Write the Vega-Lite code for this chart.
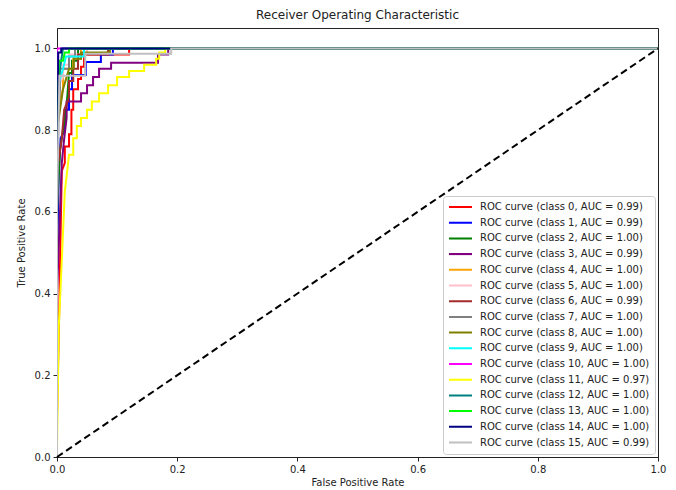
{
  "$schema": "https://vega.github.io/schema/vega-lite/v6.json",
  "autosize": "none",
  "width": 601,
  "height": 429,
  "padding": {"left": 57, "top": 28, "right": 18, "bottom": 33},
  "background": "white",
  "config": {
    "font": "DejaVu Sans",
    "view": {"stroke": "#222", "strokeWidth": 1},
    "axis": {"grid": false, "domainColor": "#222", "tickColor": "#222", "labelColor": "#222", "titleColor": "#222", "labelFontSize": 10, "titleFontSize": 10, "titleFontWeight": "normal", "tickSize": 4, "labelPadding": 3, "labelFlush": false, "labelOverlap": false}
  },
  "title": {"text": "Receiver Operating Characteristic", "fontSize": 12, "fontWeight": "normal", "color": "#222", "anchor": "middle", "offset": 6},
  "datasets": {
    "auc": [
      {"c": 0, "label": "ROC curve (class 0, AUC = 0.99)"},
      {"c": 1, "label": "ROC curve (class 1, AUC = 0.99)"},
      {"c": 2, "label": "ROC curve (class 2, AUC = 1.00)"},
      {"c": 3, "label": "ROC curve (class 3, AUC = 0.99)"},
      {"c": 4, "label": "ROC curve (class 4, AUC = 1.00)"},
      {"c": 5, "label": "ROC curve (class 5, AUC = 1.00)"},
      {"c": 6, "label": "ROC curve (class 6, AUC = 0.99)"},
      {"c": 7, "label": "ROC curve (class 7, AUC = 1.00)"},
      {"c": 8, "label": "ROC curve (class 8, AUC = 1.00)"},
      {"c": 9, "label": "ROC curve (class 9, AUC = 1.00)"},
      {"c": 10, "label": "ROC curve (class 10, AUC = 1.00)"},
      {"c": 11, "label": "ROC curve (class 11, AUC = 0.97)"},
      {"c": 12, "label": "ROC curve (class 12, AUC = 1.00)"},
      {"c": 13, "label": "ROC curve (class 13, AUC = 1.00)"},
      {"c": 14, "label": "ROC curve (class 14, AUC = 1.00)"},
      {"c": 15, "label": "ROC curve (class 15, AUC = 0.99)"}
    ],
    "roc": [
      {"c":0,"i":0,"fpr":0,"tpr":0},{"c":0,"i":1,"fpr":0,"tpr":0.1},{"c":0,"i":2,"fpr":0.004,"tpr":0.38},{"c":0,"i":3,"fpr":0.006,"tpr":0.55},{"c":0,"i":4,"fpr":0.008,"tpr":0.7},{"c":0,"i":5,"fpr":0.013,"tpr":0.72},{"c":0,"i":6,"fpr":0.013,"tpr":0.76},{"c":0,"i":7,"fpr":0.02,"tpr":0.76},{"c":0,"i":8,"fpr":0.02,"tpr":0.79},{"c":0,"i":9,"fpr":0.024,"tpr":0.79},{"c":0,"i":10,"fpr":0.024,"tpr":0.85},{"c":0,"i":11,"fpr":0.027,"tpr":0.85},{"c":0,"i":12,"fpr":0.027,"tpr":0.9},{"c":0,"i":13,"fpr":0.035,"tpr":0.9},{"c":0,"i":14,"fpr":0.035,"tpr":0.925},{"c":0,"i":15,"fpr":0.04,"tpr":0.925},{"c":0,"i":16,"fpr":0.04,"tpr":0.955},{"c":0,"i":17,"fpr":0.045,"tpr":0.955},{"c":0,"i":18,"fpr":0.045,"tpr":0.985},{"c":0,"i":19,"fpr":0.12,"tpr":0.985},{"c":0,"i":20,"fpr":0.12,"tpr":1},{"c":0,"i":21,"fpr":1,"tpr":1},
      {"c":1,"i":0,"fpr":0,"tpr":0},{"c":1,"i":1,"fpr":0,"tpr":0.5},{"c":1,"i":2,"fpr":0.003,"tpr":0.7},{"c":1,"i":3,"fpr":0.006,"tpr":0.78},{"c":1,"i":4,"fpr":0.013,"tpr":0.8},{"c":1,"i":5,"fpr":0.013,"tpr":0.85},{"c":1,"i":6,"fpr":0.02,"tpr":0.85},{"c":1,"i":7,"fpr":0.02,"tpr":0.9},{"c":1,"i":8,"fpr":0.025,"tpr":0.9},{"c":1,"i":9,"fpr":0.025,"tpr":0.935},{"c":1,"i":10,"fpr":0.048,"tpr":0.935},{"c":1,"i":11,"fpr":0.048,"tpr":0.967},{"c":1,"i":12,"fpr":0.073,"tpr":0.967},{"c":1,"i":13,"fpr":0.073,"tpr":0.985},{"c":1,"i":14,"fpr":0.093,"tpr":0.985},{"c":1,"i":15,"fpr":0.093,"tpr":1},{"c":1,"i":16,"fpr":1,"tpr":1},
      {"c":2,"i":0,"fpr":0,"tpr":0},{"c":2,"i":1,"fpr":0,"tpr":0.6},{"c":2,"i":2,"fpr":0.005,"tpr":0.75},{"c":2,"i":3,"fpr":0.01,"tpr":0.8},{"c":2,"i":4,"fpr":0.015,"tpr":0.84},{"c":2,"i":5,"fpr":0.018,"tpr":0.9},{"c":2,"i":6,"fpr":0.02,"tpr":0.94},{"c":2,"i":7,"fpr":0.025,"tpr":0.94},{"c":2,"i":8,"fpr":0.025,"tpr":0.97},{"c":2,"i":9,"fpr":0.035,"tpr":0.97},{"c":2,"i":10,"fpr":0.035,"tpr":1},{"c":2,"i":11,"fpr":1,"tpr":1},
      {"c":3,"i":0,"fpr":0,"tpr":0},{"c":3,"i":1,"fpr":0,"tpr":0.4},{"c":3,"i":2,"fpr":0.005,"tpr":0.6},{"c":3,"i":3,"fpr":0.008,"tpr":0.72},{"c":3,"i":4,"fpr":0.012,"tpr":0.78},{"c":3,"i":5,"fpr":0.016,"tpr":0.83},{"c":3,"i":6,"fpr":0.016,"tpr":0.87},{"c":3,"i":7,"fpr":0.04,"tpr":0.87},{"c":3,"i":8,"fpr":0.04,"tpr":0.89},{"c":3,"i":9,"fpr":0.05,"tpr":0.89},{"c":3,"i":10,"fpr":0.05,"tpr":0.91},{"c":3,"i":11,"fpr":0.06,"tpr":0.91},{"c":3,"i":12,"fpr":0.06,"tpr":0.93},{"c":3,"i":13,"fpr":0.07,"tpr":0.93},{"c":3,"i":14,"fpr":0.07,"tpr":0.95},{"c":3,"i":15,"fpr":0.09,"tpr":0.95},{"c":3,"i":16,"fpr":0.09,"tpr":0.965},{"c":3,"i":17,"fpr":0.168,"tpr":0.965},{"c":3,"i":18,"fpr":0.168,"tpr":0.985},{"c":3,"i":19,"fpr":0.185,"tpr":0.985},{"c":3,"i":20,"fpr":0.185,"tpr":1},{"c":3,"i":21,"fpr":1,"tpr":1},
      {"c":4,"i":0,"fpr":0,"tpr":0},{"c":4,"i":1,"fpr":0,"tpr":0.85},{"c":4,"i":2,"fpr":0.01,"tpr":0.9},{"c":4,"i":3,"fpr":0.01,"tpr":0.95},{"c":4,"i":4,"fpr":0.027,"tpr":0.95},{"c":4,"i":5,"fpr":0.027,"tpr":0.975},{"c":4,"i":6,"fpr":0.04,"tpr":0.975},{"c":4,"i":7,"fpr":0.04,"tpr":1},{"c":4,"i":8,"fpr":1,"tpr":1},
      {"c":5,"i":0,"fpr":0,"tpr":0},{"c":5,"i":1,"fpr":0,"tpr":0.9},{"c":5,"i":2,"fpr":0.01,"tpr":0.93},{"c":5,"i":3,"fpr":0.01,"tpr":0.96},{"c":5,"i":4,"fpr":0.02,"tpr":0.96},{"c":5,"i":5,"fpr":0.02,"tpr":0.985},{"c":5,"i":6,"fpr":0.05,"tpr":0.985},{"c":5,"i":7,"fpr":0.05,"tpr":1},{"c":5,"i":8,"fpr":1,"tpr":1},
      {"c":6,"i":0,"fpr":0,"tpr":0},{"c":6,"i":1,"fpr":0,"tpr":0.7},{"c":6,"i":2,"fpr":0.008,"tpr":0.78},{"c":6,"i":3,"fpr":0.012,"tpr":0.85},{"c":6,"i":4,"fpr":0.02,"tpr":0.88},{"c":6,"i":5,"fpr":0.02,"tpr":0.92},{"c":6,"i":6,"fpr":0.027,"tpr":0.92},{"c":6,"i":7,"fpr":0.027,"tpr":0.95},{"c":6,"i":8,"fpr":0.035,"tpr":0.95},{"c":6,"i":9,"fpr":0.035,"tpr":0.985},{"c":6,"i":10,"fpr":0.085,"tpr":0.985},{"c":6,"i":11,"fpr":0.085,"tpr":1},{"c":6,"i":12,"fpr":1,"tpr":1},
      {"c":7,"i":0,"fpr":0,"tpr":0},{"c":7,"i":1,"fpr":0,"tpr":0.8},{"c":7,"i":2,"fpr":0.005,"tpr":0.9},{"c":7,"i":3,"fpr":0.005,"tpr":0.95},{"c":7,"i":4,"fpr":0.02,"tpr":0.95},{"c":7,"i":5,"fpr":0.02,"tpr":0.98},{"c":7,"i":6,"fpr":0.03,"tpr":0.98},{"c":7,"i":7,"fpr":0.03,"tpr":1},{"c":7,"i":8,"fpr":1,"tpr":1},
      {"c":8,"i":0,"fpr":0,"tpr":0},{"c":8,"i":1,"fpr":0,"tpr":0.8},{"c":8,"i":2,"fpr":0.01,"tpr":0.9},{"c":8,"i":3,"fpr":0.02,"tpr":0.95},{"c":8,"i":4,"fpr":0.028,"tpr":0.95},{"c":8,"i":5,"fpr":0.028,"tpr":0.975},{"c":8,"i":6,"fpr":0.04,"tpr":0.975},{"c":8,"i":7,"fpr":0.04,"tpr":0.99},{"c":8,"i":8,"fpr":0.088,"tpr":0.99},{"c":8,"i":9,"fpr":0.088,"tpr":1},{"c":8,"i":10,"fpr":1,"tpr":1},
      {"c":9,"i":0,"fpr":0,"tpr":0},{"c":9,"i":1,"fpr":0,"tpr":0.9},{"c":9,"i":2,"fpr":0.01,"tpr":0.95},{"c":9,"i":3,"fpr":0.015,"tpr":0.98},{"c":9,"i":4,"fpr":0.045,"tpr":0.98},{"c":9,"i":5,"fpr":0.045,"tpr":1},{"c":9,"i":6,"fpr":1,"tpr":1},
      {"c":10,"i":0,"fpr":0,"tpr":0},{"c":10,"i":1,"fpr":0,"tpr":1},{"c":10,"i":2,"fpr":1,"tpr":1},
      {"c":11,"i":0,"fpr":0,"tpr":0},{"c":11,"i":1,"fpr":0,"tpr":0.02},{"c":11,"i":2,"fpr":0.003,"tpr":0.32},{"c":11,"i":3,"fpr":0.007,"tpr":0.45},{"c":11,"i":4,"fpr":0.01,"tpr":0.55},{"c":11,"i":5,"fpr":0.013,"tpr":0.65},{"c":11,"i":6,"fpr":0.017,"tpr":0.7},{"c":11,"i":7,"fpr":0.02,"tpr":0.74},{"c":11,"i":8,"fpr":0.027,"tpr":0.74},{"c":11,"i":9,"fpr":0.027,"tpr":0.78},{"c":11,"i":10,"fpr":0.033,"tpr":0.78},{"c":11,"i":11,"fpr":0.033,"tpr":0.81},{"c":11,"i":12,"fpr":0.04,"tpr":0.81},{"c":11,"i":13,"fpr":0.04,"tpr":0.83},{"c":11,"i":14,"fpr":0.05,"tpr":0.83},{"c":11,"i":15,"fpr":0.05,"tpr":0.85},{"c":11,"i":16,"fpr":0.058,"tpr":0.85},{"c":11,"i":17,"fpr":0.058,"tpr":0.87},{"c":11,"i":18,"fpr":0.07,"tpr":0.87},{"c":11,"i":19,"fpr":0.07,"tpr":0.89},{"c":11,"i":20,"fpr":0.085,"tpr":0.89},{"c":11,"i":21,"fpr":0.085,"tpr":0.91},{"c":11,"i":22,"fpr":0.1,"tpr":0.91},{"c":11,"i":23,"fpr":0.1,"tpr":0.93},{"c":11,"i":24,"fpr":0.12,"tpr":0.93},{"c":11,"i":25,"fpr":0.12,"tpr":0.945},{"c":11,"i":26,"fpr":0.145,"tpr":0.945},{"c":11,"i":27,"fpr":0.145,"tpr":0.96},{"c":11,"i":28,"fpr":0.165,"tpr":0.96},{"c":11,"i":29,"fpr":0.165,"tpr":0.975},{"c":11,"i":30,"fpr":0.17,"tpr":0.975},{"c":11,"i":31,"fpr":0.17,"tpr":0.99},{"c":11,"i":32,"fpr":0.18,"tpr":0.99},{"c":11,"i":33,"fpr":0.18,"tpr":1},{"c":11,"i":34,"fpr":1,"tpr":1},
      {"c":12,"i":0,"fpr":0,"tpr":0},{"c":12,"i":1,"fpr":0,"tpr":0.9},{"c":12,"i":2,"fpr":0.005,"tpr":0.95},{"c":12,"i":3,"fpr":0.01,"tpr":1},{"c":12,"i":4,"fpr":1,"tpr":1},
      {"c":13,"i":0,"fpr":0,"tpr":0},{"c":13,"i":1,"fpr":0,"tpr":0.92},{"c":13,"i":2,"fpr":0.003,"tpr":0.92},{"c":13,"i":3,"fpr":0.003,"tpr":0.97},{"c":13,"i":4,"fpr":0.01,"tpr":0.97},{"c":13,"i":5,"fpr":0.013,"tpr":0.99},{"c":13,"i":6,"fpr":0.02,"tpr":0.99},{"c":13,"i":7,"fpr":0.02,"tpr":1},{"c":13,"i":8,"fpr":1,"tpr":1},
      {"c":14,"i":0,"fpr":0,"tpr":0},{"c":14,"i":1,"fpr":0,"tpr":0.5},{"c":14,"i":2,"fpr":0.002,"tpr":0.8},{"c":14,"i":3,"fpr":0.002,"tpr":0.99},{"c":14,"i":4,"fpr":0.007,"tpr":0.99},{"c":14,"i":5,"fpr":0.007,"tpr":1},{"c":14,"i":6,"fpr":1,"tpr":1},
      {"c":15,"i":0,"fpr":0,"tpr":0},{"c":15,"i":1,"fpr":0,"tpr":0.6},{"c":15,"i":2,"fpr":0.004,"tpr":0.933},{"c":15,"i":3,"fpr":0.047,"tpr":0.933},{"c":15,"i":4,"fpr":0.047,"tpr":0.987},{"c":15,"i":5,"fpr":0.19,"tpr":0.987},{"c":15,"i":6,"fpr":0.19,"tpr":1},{"c":15,"i":7,"fpr":1,"tpr":1}
    ],
    "diag": [{"fpr": 0, "tpr": 0}, {"fpr": 1, "tpr": 1}]
  },
  "layer": [
    {
      "data": {"name": "roc"},
      "transform": [
        {"lookup": "c", "from": {"data": {"name": "auc"}, "key": "c", "fields": ["label"]}}
      ],
      "mark": {"type": "line", "strokeWidth": 2, "clip": true},
      "encoding": {
        "x": {"field": "fpr", "type": "quantitative", "title": "False Positive Rate",
              "scale": {"domain": [0, 1], "nice": false, "zero": false},
              "axis": {"values": [0, 0.2, 0.4, 0.6, 0.8, 1.0], "format": ".1f", "titlePadding": 3}},
        "y": {"field": "tpr", "type": "quantitative", "title": "True Positive Rate",
              "scale": {"domain": [0, 1.05], "nice": false, "zero": false},
              "axis": {"values": [0, 0.2, 0.4, 0.6, 0.8, 1.0], "format": ".1f", "titlePadding": 8}},
        "order": {"field": "i", "type": "quantitative"},
        "color": {
          "field": "label", "type": "nominal",
          "scale": {
            "domain": ["ROC curve (class 0, AUC = 0.99)", "ROC curve (class 1, AUC = 0.99)", "ROC curve (class 2, AUC = 1.00)", "ROC curve (class 3, AUC = 0.99)", "ROC curve (class 4, AUC = 1.00)", "ROC curve (class 5, AUC = 1.00)", "ROC curve (class 6, AUC = 0.99)", "ROC curve (class 7, AUC = 1.00)", "ROC curve (class 8, AUC = 1.00)", "ROC curve (class 9, AUC = 1.00)", "ROC curve (class 10, AUC = 1.00)", "ROC curve (class 11, AUC = 0.97)", "ROC curve (class 12, AUC = 1.00)", "ROC curve (class 13, AUC = 1.00)", "ROC curve (class 14, AUC = 1.00)", "ROC curve (class 15, AUC = 0.99)"],
            "range": ["#ff0000", "#0000ff", "#008000", "#800080", "#ffa500", "#ffc0cb", "#a52a2a", "#808080", "#808000", "#00ffff", "#ff00ff", "#ffff00", "#008080", "#00ff00", "#000080", "#c0c0c0"]
          },
          "legend": {
            "title": null, "orient": "none", "legendX": 386, "legendY": 168,
            "symbolType": "stroke", "symbolStrokeWidth": 2, "symbolSize": 529,
            "clipHeight": 12,
            "labelFontSize": 10, "labelColor": "#222", "labelLimit": 300, "labelOffset": 7,
            "rowPadding": 3.7, "padding": 5, "fillColor": "white", "strokeColor": "#cccccc", "cornerRadius": 3
          }
        }
      }
    },
    {
      "data": {"name": "diag"},
      "mark": {"type": "line", "color": "black", "strokeWidth": 2, "strokeDash": [7, 4]},
      "encoding": {
        "x": {"field": "fpr", "type": "quantitative"},
        "y": {"field": "tpr", "type": "quantitative"}
      }
    }
  ]
}
